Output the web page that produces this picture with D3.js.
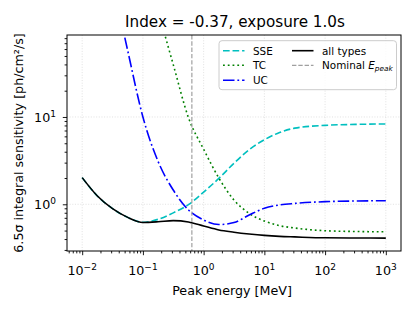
<!DOCTYPE html>
<html><head><meta charset="utf-8">
<script src="https://cdn.jsdelivr.net/npm/d3@7"></script>
<style>body{margin:0;background:#fff} text{font-family:"DejaVu Sans",sans-serif;fill:#000}</style>
</head><body><svg id="c" width="416" height="312"></svg>
<script>
// ---- data ----
const energies = [0.01, 0.0178, 0.0316, 0.0562, 0.1, 0.178, 0.316, 0.562, 1, 1.78, 3.16, 5.62, 10, 17.8, 31.6, 100, 316, 1000];
const sse   = [2.02, 1.245, 0.891, 0.708, 0.622, 0.673, 0.798, 0.989, 1.38, 1.98, 2.95, 4.23, 5.48, 6.64, 7.45, 8.02, 8.22, 8.32];
const tc    = [null, null, null, null, 646, 162, 39.8, 9.84, 4.27, 2.0, 1.12, 0.785, 0.643, 0.569, 0.535, 0.498, 0.488, 0.484];
const uc    = [null, null, 355, 57.5, 10, 3.09, 1.456, 0.861, 0.661, 0.586, 0.617, 0.753, 0.9, 0.982, 1.023, 1.072, 1.091, 1.099];
const allTypes = [2.02, 1.245, 0.891, 0.708, 0.619, 0.630, 0.650, 0.627, 0.564, 0.508, 0.479, 0.457, 0.440, 0.429, 0.423, 0.413, 0.411, 0.410];
const nominalEpeak = 0.64;
const xTickExps = [-2, -1, 0, 1, 2, 3];
const yTickExps = [0, 1];
const title = "Index = -0.37, exposure 1.0s";

// ---- layout ----
const svg = d3.select("#c");
const L = 67, R = 401, T = 35, B = 251;
const x = d3.scaleLog().domain([Math.pow(10, -2.25), Math.pow(10, 3.25)]).range([L, R]);
const y = d3.scaleLog().domain([Math.pow(10, -0.535), Math.pow(10, 1.939)]).range([B, T]);

svg.append("defs").append("clipPath").attr("id", "clip")
  .append("rect").attr("x", L).attr("y", T).attr("width", R - L).attr("height", B - T);

// grid
const gridG = svg.append("g");
xTickExps.forEach(e => {
  gridG.append("line").attr("x1", x(10 ** e)).attr("x2", x(10 ** e)).attr("y1", T).attr("y2", B)
    .attr("stroke", "#d9d9d9").attr("stroke-width", 0.8).attr("stroke-dasharray", "1,1.65");
});
yTickExps.forEach(e => {
  gridG.append("line").attr("y1", y(10 ** e)).attr("y2", y(10 ** e)).attr("x1", L).attr("x2", R)
    .attr("stroke", "#d9d9d9").attr("stroke-width", 0.8).attr("stroke-dasharray", "1,1.65");
});

// minor ticks
function minors(lo, hi, dom) {
  const out = [];
  for (let e = lo; e <= hi; e++) for (let m = 2; m <= 9; m++) {
    const v = m * 10 ** e; if (v > dom[0] && v < dom[1]) out.push(v);
  }
  return out;
}
const xAxisG = svg.append("g").attr("transform", `translate(0,${B})`);
xAxisG.call(d3.axisBottom(x).tickValues(xTickExps.map(e => 10 ** e)).tickSize(4.2).tickFormat(""));
xAxisG.append("g").call(d3.axisBottom(x).tickValues(minors(-3, 3, x.domain())).tickSize(2.4).tickFormat(""));
const yAxisG = svg.append("g").attr("transform", `translate(${L},0)`);
yAxisG.call(d3.axisLeft(y).tickValues(yTickExps.map(e => 10 ** e)).tickSize(4.2).tickFormat(""));
yAxisG.append("g").call(d3.axisLeft(y).tickValues(minors(-1, 2, y.domain())).tickSize(2.4).tickFormat(""));
svg.selectAll(".domain").remove();
svg.selectAll(".tick line").attr("stroke", "#000").attr("stroke-width", 0.9);

// tick labels
function powLabel(g, px, py, e, anchor) {
  const t = g.append("text").attr("x", px).attr("y", py).attr("font-size", 12.7).attr("text-anchor", anchor);
  t.append("tspan").text("10");
  t.append("tspan").attr("dy", -5.3).attr("font-size", 9).text(e < 0 ? "\u2212" + (-e) : String(e));
}
xTickExps.forEach(e => powLabel(svg, x(10 ** e), 275, e, "middle"));
yTickExps.forEach(e => powLabel(svg, 56, y(10 ** e) + 5, e, "end"));

// curves
const line = d3.line().defined(d => d[1] != null).x(d => x(d[0])).y(d => y(d[1])).curve(d3.curveMonotoneX);
const plotG = svg.append("g").attr("clip-path", "url(#clip)");
const series = [
  { vals: sse, color: "#00bfbf", dash: "6.66,2.88" },
  { vals: tc, color: "#008000", dash: "1.8,2.97" },
  { vals: uc, color: "#0000ff", dash: "11.5,2.88,1.8,2.88" },
  { vals: allTypes, color: "#000000", dash: null },
];
series.forEach(s => {
  plotG.append("path").datum(energies.map((e, i) => [e, s.vals[i]]))
    .attr("d", line).attr("fill", "none").attr("stroke", s.color).attr("stroke-width", 1.6)
    .attr("stroke-dasharray", s.dash);
});
plotG.append("line").attr("x1", x(nominalEpeak)).attr("x2", x(nominalEpeak)).attr("y1", T).attr("y2", B)
  .attr("stroke", "#a0a0a0").attr("stroke-width", 1.2).attr("stroke-dasharray", "4.4,1.9");

// spines
svg.append("rect").attr("x", L).attr("y", T).attr("width", R - L).attr("height", B - T)
  .attr("fill", "none").attr("stroke", "#000").attr("stroke-width", 1);

// legend
const lg = svg.append("g");
lg.append("rect").attr("x", 219).attr("y", 40.7).attr("width", 177.5).attr("height", 49).attr("rx", 3)
  .attr("fill", "#fff").attr("fill-opacity", 0.8).attr("stroke", "#cccccc").attr("stroke-width", 1);
const legItems = [
  { col: 0, row: 0, label: "SSE", color: "#00bfbf", dash: "6.66,2.88", w: 1.6 },
  { col: 0, row: 1, label: "TC", color: "#008000", dash: "1.8,2.97", w: 1.6 },
  { col: 0, row: 2, label: "UC", color: "#0000ff", dash: "11.5,2.88,1.8,2.88", w: 1.6 },
  { col: 1, row: 0, label: "all types", color: "#000", dash: null, w: 1.6 },
  { col: 1, row: 1, label: "nominal", color: "#a0a0a0", dash: "4.4,1.9", w: 1.2 },
];
const colX = [223, 292];
const rowY = [50.7, 65.3, 80.3];
legItems.forEach(it => {
  const x0 = colX[it.col], yy = rowY[it.row];
  lg.append("line").attr("x1", x0).attr("x2", x0 + 21.5).attr("y1", yy).attr("y2", yy)
    .attr("stroke", it.color).attr("stroke-width", it.w).attr("stroke-dasharray", it.dash);
  const t = lg.append("text").attr("x", x0 + 30).attr("y", yy + 3.8).attr("font-size", 10.4);
  if (it.label === "nominal") {
    t.append("tspan").text("Nominal ");
    t.append("tspan").attr("font-style", "italic").text("E");
    t.append("tspan").attr("font-style", "italic").attr("font-size", 7.3).attr("dy", 2).text("peak");
  } else t.text(it.label);
});

// title & labels
svg.append("text").attr("x", (L + R) / 2 + 1).attr("y", 26.5).attr("text-anchor", "middle").attr("font-size", 15.2).text(title);
svg.append("text").attr("x", (L + R) / 2 - 2).attr("y", 294.5).attr("text-anchor", "middle").attr("font-size", 12.7).text("Peak energy [MeV]");
svg.append("text").attr("transform", `translate(22.5,${(T + B) / 2}) rotate(-90)`).attr("text-anchor", "middle")
  .attr("font-size", 12.7).text("6.5\u03c3 integral sensitivity [ph/cm\u00b2/s]");
</script></body></html>
